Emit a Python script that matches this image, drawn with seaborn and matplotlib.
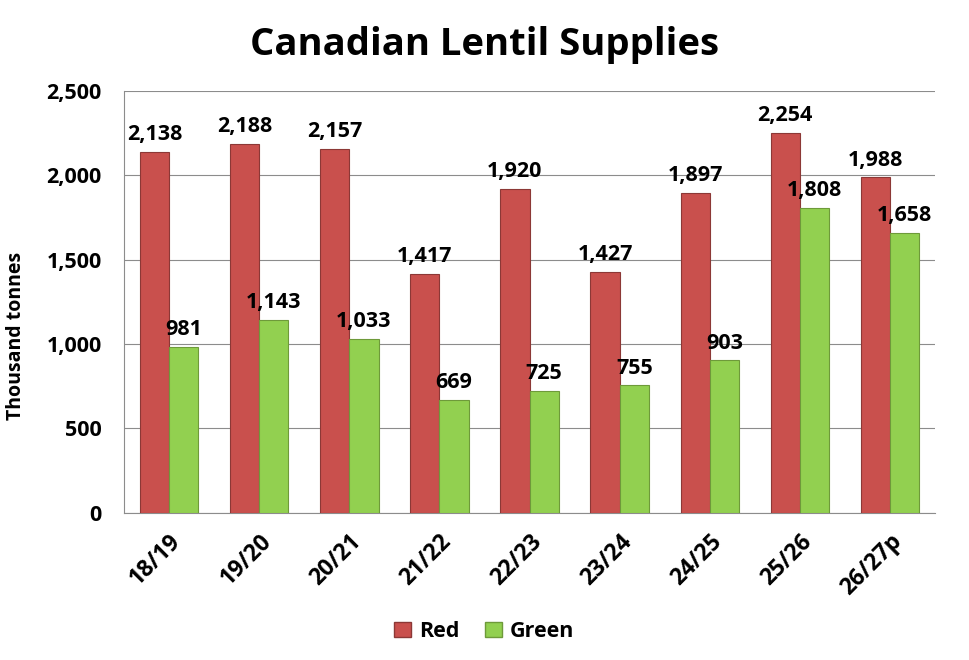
import pandas as pd
import matplotlib
matplotlib.use('Agg')
from matplotlib import pyplot as plt
from matplotlib.patches import Patch
import seaborn as sns

# values
seasons = ['18/19', '19/20', '20/21', '21/22', '22/23', '23/24', '24/25', '25/26', '26/27p']
red = [2138, 2188, 2157, 1417, 1920, 1427, 1897, 2254, 1988]
green = [981, 1143, 1033, 669, 725, 755, 903, 1808, 1658]
kinds = ['Red', 'Green']
colors = {'Red': '#C9504D', 'Green': '#92D050'}
edges = {'Red': '#8C3836', 'Green': '#6E9A3A'}

frame = pd.DataFrame({'season': seasons * 2,
                      'kind': ['Red'] * len(red) + ['Green'] * len(green),
                      'value': red + green})

sns.set_theme(style='white')
plt.rcParams['font.family'] = ['Open Sans', 'DejaVu Sans']
plt.rcParams['font.weight'] = 'bold'
plt.rcParams['text.color'] = 'black'
plt.rcParams['xtick.color'] = 'black'
plt.rcParams['ytick.color'] = 'black'
plt.rcParams['axes.labelcolor'] = 'black'

fig = plt.figure(figsize=(9.69, 6.6), dpi=100)
ax = fig.add_axes([0.128, 0.223, 0.837, 0.639])

sns.barplot(ax=ax, data=frame, x='season', y='value', hue='kind', hue_order=kinds,
            palette=colors, width=0.65, gap=0, saturation=1, legend=False, zorder=3)

for container, kind in zip(ax.containers, kinds):
    for bar in container:
        bar.set_edgecolor(edges[kind])
        bar.set_linewidth(0.8)
    ax.bar_label(container, labels=[f'{v:,.0f}' for v in container.datavalues],
                 padding=5, fontsize=15.5, fontweight='bold', color='black')

ax.set_ylim(0, 2500)
ax.set_yticks(range(0, 2501, 500))
ax.set_yticklabels([f'{v:,}' for v in range(0, 2501, 500)], fontsize=15.5, fontweight='bold')
ax.set_xlim(-0.5, len(seasons) - 0.5)
ax.set_xticks(range(len(seasons)))
ax.set_xticklabels(seasons, rotation=45, ha='right', rotation_mode='anchor',
                   fontsize=16.5, fontweight='bold')
ax.tick_params(axis='x', pad=12, length=0)
ax.tick_params(axis='y', pad=16, length=0)
ax.yaxis.grid(True, color='#8C8C8C', linewidth=0.8, zorder=0)
ax.set_axisbelow(True)
ax.set_xlabel('')
ax.set_ylabel('Thousand tonnes', fontsize=14, fontweight='bold')
ax.yaxis.set_label_coords(-0.121, 0.42)

for side in ['top', 'right']:
    ax.spines[side].set_visible(False)
for side in ['left', 'bottom']:
    ax.spines[side].set_color('#8C8C8C')
    ax.spines[side].set_linewidth(0.8)

fig.suptitle('Canadian Lentil Supplies', x=0.5, y=0.96, fontsize=27.5, fontweight='bold')

handles = [Patch(facecolor=colors[k], edgecolor=edges[k], label=k) for k in kinds]
fig.legend(handles=handles, loc='center', bbox_to_anchor=(0.5, 0.043), ncol=2, frameon=False,
           prop={'size': 15.5, 'weight': 'bold'}, handlelength=0.75, handleheight=0.75,
           columnspacing=1.2, handletextpad=0.4)

fig.savefig('out.png', dpi=100)
